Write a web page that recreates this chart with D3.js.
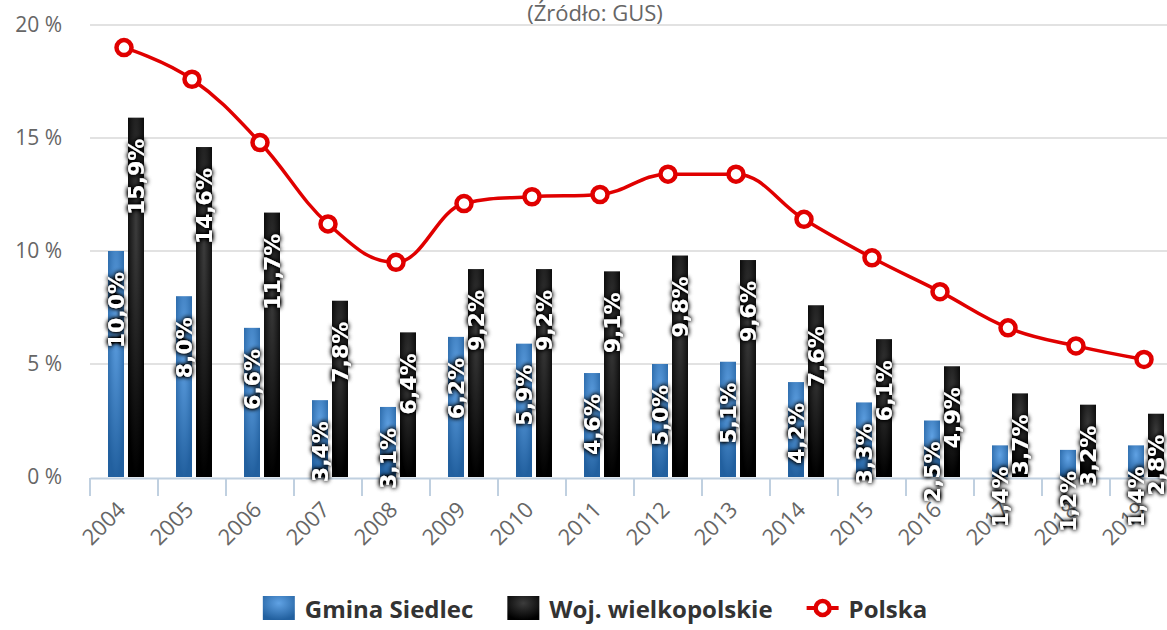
<!DOCTYPE html>
<html>
<head>
<meta charset="utf-8">
<script src="https://cdnjs.cloudflare.com/ajax/libs/d3/7.8.5/d3.min.js"></script>
<style>
  body { margin: 0; background: #fff; }
  svg { display: block; font-family: "Open Sans", sans-serif; }
</style>
</head>
<body>
<div id="chart"></div>
<script>
const years = ["2004", "2005", "2006", "2007", "2008", "2009", "2010", "2011",
  "2012", "2013", "2014", "2015", "2016", "2017", "2018", "2019"];
const gmina = [10.0, 8.0, 6.6, 3.4, 3.1, 6.2, 5.9, 4.6, 5.0, 5.1, 4.2, 3.3, 2.5, 1.4, 1.2, 1.4];
const woj = [15.9, 14.6, 11.7, 7.8, 6.4, 9.2, 9.2, 9.1, 9.8, 9.6, 7.6, 6.1, 4.9, 3.7, 3.2, 2.8];
const polska = [19.0, 17.6, 14.8, 11.2, 9.5, 12.1, 12.4, 12.5, 13.4, 13.4, 11.4, 9.7, 8.2, 6.6, 5.8, 5.2];
const yTicks = [0, 5, 10, 15, 20];
const seriesNames = ["Gmina Siedlec", "Woj. wielkopolskie", "Polska"];

const w = 1167;
const h = 630;
const plotLeft = 90;
const step = 68;
const plotTop = 25;
const plotBottom = 477;

const svg = d3.select("#chart").append("svg").attr("width", w).attr("height", h);
svg.append("rect").attr("width", w).attr("height", h).attr("fill", "#fff");

const defs = svg.append("defs");
function grad(id, c0, c1) {
  const g = defs.append("radialGradient").attr("id", id)
    .attr("cx", 0.5).attr("cy", 0.3).attr("r", 0.7);
  g.append("stop").attr("offset", 0).attr("stop-color", c0);
  g.append("stop").attr("offset", 1).attr("stop-color", c1);
}
grad("gBlue", "#60a2e4", "#22609f");
grad("gBlack", "#3c3c3c", "#000");

const f = defs.append("filter").attr("id", "shadow")
  .attr("x", "-50%").attr("y", "-20%").attr("width", "200%").attr("height", "140%");
f.append("feGaussianBlur").attr("in", "SourceAlpha").attr("stdDeviation", 2.6).attr("result", "b");
f.append("feComponentTransfer").attr("in", "b").attr("result", "b2")
  .append("feFuncA").attr("type", "linear").attr("slope", 2.2);
const m = f.append("feMerge");
m.append("feMergeNode").attr("in", "b2");
m.append("feMergeNode").attr("in", "SourceGraphic");

const x = d3.scaleBand().domain(years).range([plotLeft, plotLeft + step * years.length]);
const y = d3.scaleLinear().domain([0, 20]).range([plotBottom, plotTop]);
const sub = d3.scaleBand().domain(["g", "w"]).range([-16, 20]).paddingInner(0.2);

// grid
svg.append("g").selectAll("line").data(yTicks.filter(d => d > 0)).enter().append("line")
  .attr("x1", plotLeft).attr("x2", w)
  .attr("y1", d => y(d)).attr("y2", d => y(d))
  .attr("stroke", "#d8d8d8").attr("stroke-width", 1.5);

// y labels
svg.append("g").selectAll("text").data(yTicks).enter().append("text")
  .attr("x", 62).attr("y", d => y(d)).attr("dy", "0.35em")
  .attr("text-anchor", "end").attr("fill", "#666").attr("font-size", 21)
  .text(d => d + " %");

// x axis
const xAxis = d3.axisBottom(x).tickSize(0).tickFormat("");
const gx = svg.append("g").attr("transform", "translate(0," + (plotBottom + 1) + ")").call(xAxis);
gx.select(".domain").attr("stroke", "#c0d0e0").attr("stroke-width", 2);
const bounds = years.map(d => x(d)).concat([x(years[years.length - 1]) + step]);
svg.append("g").selectAll("line").data(bounds).enter().append("line")
  .attr("x1", d => d).attr("x2", d => d)
  .attr("y1", plotBottom + 1).attr("y2", plotBottom + 19)
  .attr("stroke", "#c0d0e0").attr("stroke-width", 2);

svg.append("g").selectAll("text").data(years).enter().append("text")
  .attr("transform", d => "translate(" + (x(d) + step / 2 + 3) + "," + (plotBottom + 34) + ") rotate(-45)")
  .attr("text-anchor", "end").attr("fill", "#666").attr("font-size", 22)
  .text(d => d);

// bars
const rows = years.map((yr, i) => ({ yr: yr, g: gmina[i], w: woj[i], p: polska[i] }));
const bars = [];
rows.forEach(r => {
  bars.push({ yr: r.yr, k: "g", v: r.g });
  bars.push({ yr: r.yr, k: "w", v: r.w });
});
svg.append("g").selectAll("rect").data(bars).enter().append("rect")
  .attr("x", d => x(d.yr) + step / 2 + sub(d.k))
  .attr("width", sub.bandwidth())
  .attr("y", d => y(d.v))
  .attr("height", d => plotBottom - y(d.v))
  .attr("fill", d => d.k === "g" ? "url(#gBlue)" : "url(#gBlack)");

// Highcharts-like spline
function spline(pts) {
  let p = "M" + pts[0][0] + "," + pts[0][1];
  let prc = pts[0];
  for (let i = 1; i < pts.length; i++) {
    const [px, py] = pts[i];
    let lc = [px, py], rc = [px, py];
    if (i < pts.length - 1) {
      const [lx, ly] = pts[i - 1], [nx, ny] = pts[i + 1];
      let lcx = (1.5 * px + lx) / 2.5, lcy = (1.5 * py + ly) / 2.5;
      let rcx = (1.5 * px + nx) / 2.5, rcy = (1.5 * py + ny) / 2.5;
      const corr = ((rcy - lcy) * (rcx - px)) / (rcx - lcx) + py - rcy;
      lcy += corr; rcy += corr;
      if (lcy > ly && lcy > py) { lcy = Math.max(ly, py); rcy = 2 * py - lcy; }
      else if (lcy < ly && lcy < py) { lcy = Math.min(ly, py); rcy = 2 * py - lcy; }
      if (rcy > ny && rcy > py) { rcy = Math.max(ny, py); lcy = 2 * py - rcy; }
      else if (rcy < ny && rcy < py) { rcy = Math.min(ny, py); lcy = 2 * py - rcy; }
      lc = [lcx, lcy]; rc = [rcx, rcy];
    }
    p += "C" + prc[0] + "," + prc[1] + " " + lc[0] + "," + lc[1] + " " + px + "," + py;
    prc = rc;
  }
  return p;
}
const pts = rows.map(r => [x(r.yr) + step / 2, y(r.p)]);
svg.append("path").attr("d", spline(pts))
  .attr("fill", "none").attr("stroke", "#e00000").attr("stroke-width", 3.5);
svg.append("g").selectAll("circle").data(rows).enter().append("circle")
  .attr("cx", d => x(d.yr) + step / 2).attr("cy", d => y(d.p)).attr("r", 7.5)
  .attr("fill", "#fff").attr("stroke", "#e00000").attr("stroke-width", 4.5);

// data labels
const fmt = v => d3.format(".1f")(v).replace(".", ",") + "%";
svg.append("g").attr("filter", "url(#shadow)").selectAll("text").data(bars).enter().append("text")
  .attr("transform", d => "translate(" + (x(d.yr) + step / 2 + sub(d.k) + 16) + "," + (y(d.v) + 21) + ") rotate(-90)")
  .attr("text-anchor", "end")
  .attr("font-family", "DejaVu Sans").attr("font-weight", "bold").attr("font-size", 22)
  .attr("fill", "#fff")
  .text(d => fmt(d.v));

// subtitle
svg.append("text").attr("x", 595).attr("y", 21).attr("text-anchor", "middle")
  .attr("fill", "#666").attr("font-size", 22).text("(Źródło: GUS)");

// legend
const lg = svg.append("g");
const items = seriesNames.map((n, i) => ({ n: n, i: i }));
let cx = 0;
const gItems = lg.selectAll("g").data(items).enter().append("g");
gItems.each(function (d) {
  const g = d3.select(this);
  if (d.i < 2) {
    g.append("rect").attr("x", 0).attr("y", -22).attr("width", 32).attr("height", 24)
      .attr("fill", d.i === 0 ? "url(#gBlue)" : "url(#gBlack)");
  } else {
    g.append("line").attr("x1", 0).attr("x2", 32).attr("y1", -10).attr("y2", -10)
      .attr("stroke", "#e00000").attr("stroke-width", 4);
    g.append("circle").attr("cx", 16).attr("cy", -10).attr("r", 7)
      .attr("fill", "#fff").attr("stroke", "#e00000").attr("stroke-width", 4.5);
  }
  const t = g.append("text").attr("x", 42).attr("y", 0)
    .attr("font-weight", "bold").attr("font-size", 24).attr("fill", "#333").text(d.n);
  d.wd = 42 + t.node().getComputedTextLength();
});
items.forEach(d => { d.off = cx; cx += d.wd + 34; });
const total = cx - 34;
gItems.attr("transform", d => "translate(" + (595 - total / 2 + d.off) + ",618)");
</script>
</body>
</html>
